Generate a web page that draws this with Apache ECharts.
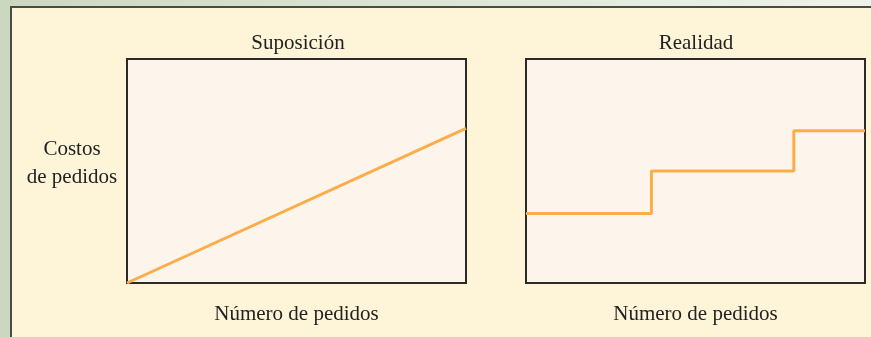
<!DOCTYPE html>
<html>
<head>
<meta charset="utf-8">
<script src="https://cdn.jsdelivr.net/npm/echarts@6/dist/echarts.min.js"></script>
<style>
  html, body { margin: 0; padding: 0; }
  #chart { width: 871px; height: 337px; }
</style>
</head>
<body>
<div id="chart"></div>
<script>
// panel titles and axis labels
const panelTitles = ['Suposición', 'Realidad'];
const xAxisName = 'Número de pedidos';
const yAxisName = 'Costos\nde pedidos';

// assumed cost: straight line (x = pedidos, y = costo, both 0..100)
const assumedX = [0, 100];
const assumedY = [0, 69];

// real cost: step function, level changes at each x
const realX = [0, 37, 79, 100];
const realY = [31, 50, 68, 68];

const font = 'Liberation Serif';
const ink = '#222';
const orange = '#fbad4a';
const fs = 21;

const chart = echarts.init(document.getElementById('chart'));

const grids = [
    { left: 127, top: 59, width: 339, height: 224 },
    { left: 526, top: 59, width: 339, height: 224 }
].map(g => Object.assign(g, {
    show: true,
    backgroundColor: '#fdf5ec',
    borderColor: '#2a2a2a',
    borderWidth: 2
}));

const makeX = (i) => ({
    type: 'value', gridIndex: i, min: 0, max: 100,
    name: xAxisName, nameLocation: 'middle', nameGap: 21,
    nameTextStyle: { fontFamily: font, fontSize: fs, color: ink },
    axisLine: { show: false }, axisTick: { show: false },
    axisLabel: { show: false }, splitLine: { show: false }
});
const makeY = (i) => ({
    type: 'value', gridIndex: i, min: 0, max: 100,
    axisLine: { show: false }, axisTick: { show: false },
    axisLabel: { show: false }, splitLine: { show: false }
});

const titleStyle = { fontFamily: font, fontSize: fs, fontWeight: 'normal', color: ink };

const option = {
    backgroundColor: {
        type: 'linear', x: 0, y: 0, x2: 1, y2: 0,
        colorStops: [{ offset: 0, color: '#cbd8bf' }, { offset: 1, color: '#eff3ec' }]
    },
    animation: false,
    graphic: [{
        type: 'rect', z: -10,
        shape: { x: 11, y: 7, width: 900, height: 400 },
        style: { fill: '#fef5d9', stroke: '#4b4b45', lineWidth: 2 }
    }],
    title: [
        { text: panelTitles[0], left: 298, top: 33, textAlign: 'center', padding: 0, textStyle: titleStyle },
        { text: panelTitles[1], left: 696, top: 33, textAlign: 'center', padding: 0, textStyle: titleStyle },
        { text: yAxisName, left: 72, top: 135, textAlign: 'center', padding: 0,
          textStyle: Object.assign({ lineHeight: 28, align: 'center' }, titleStyle) }
    ],
    grid: grids,
    xAxis: [makeX(0), makeX(1)],
    yAxis: [makeY(0), makeY(1)],
    series: [
        {
            type: 'line', xAxisIndex: 0, yAxisIndex: 0, symbol: 'none',
            data: assumedX.map((x, i) => [x, assumedY[i]]),
            lineStyle: { color: orange, width: 3 }
        },
        {
            type: 'line', xAxisIndex: 1, yAxisIndex: 1, symbol: 'none', step: 'end',
            data: realX.map((x, i) => [x, realY[i]]),
            lineStyle: { color: orange, width: 3 }
        }
    ]
};

chart.setOption(option);
</script>
</body>
</html>
